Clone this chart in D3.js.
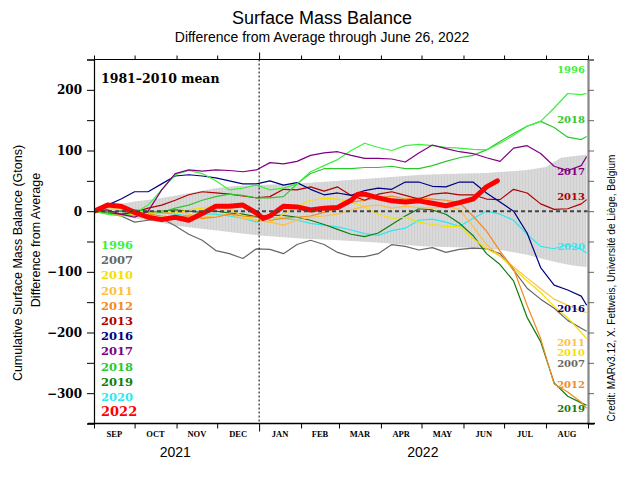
<!DOCTYPE html>
<html><head><meta charset="utf-8">
<script src="https://cdn.jsdelivr.net/npm/d3@7"></script>
<style>body{margin:0;background:#fff}</style>
</head><body>
<svg id="c" width="625" height="493"></svg>
<script>
// ---------- data ----------
const days = [0,10,20,30,40,50,60,70,80,90,100,110,120,130,140,150,160,170,180,190,200,210,220,230,240,250,260,270,280,290,300,310,320,330,340,350,360,364];
const years = ["1996","2007","2010","2011","2012","2013","2016","2017","2018","2019","2020"];
const v1996 = [0,-5,-8,-3,10,35,60,67,62,50,35,38,43,35,38,45,65,75,85,100,112,105,100,108,110,108,105,104,102,101,112,125,140,148,170,194,192,194];
const v2007 = [0,-3,-8,-18,-15,-12,-24,-38,-48,-65,-70,-78,-62,-63,-70,-55,-48,-55,-68,-75,-75,-70,-55,-58,-64,-60,-68,-63,-61,-62,-70,-97,-127,-145,-160,-180,-193,-198];
const v2010 = [0,-5,-8,-5,-3,0,-3,2,5,8,3,-8,-15,-18,-5,8,18,21,20,15,7,-5,-12,-10,-18,-22,-25,-25,-45,-62,-74,-95,-115,-134,-157,-176,-200,-210];
const v2011 = [0,3,5,0,-5,-3,0,-5,-10,-8,-5,-12,-15,-18,-23,-15,-10,-8,-5,2,8,10,5,8,6,5,8,3,-25,-55,-74,-92,-110,-128,-145,-155,-165,-167];
const v2012 = [0,-3,-6,-8,-5,-8,-10,-8,-12,-10,-5,-8,-10,-15,-12,-10,-8,-2,5,15,18,22,25,20,22,20,18,14,-8,-33,-66,-95,-155,-210,-285,-298,-315,-325];
const v2013 = [0,-2,-5,-2,5,10,18,27,32,30,28,25,22,24,36,35,40,33,40,26,18,28,32,26,20,28,30,27,27,20,19,36,30,12,3,4,12,19];
const v2016 = [0,10,20,32,32,45,58,60,58,55,50,45,45,50,43,47,36,27,30,26,34,38,36,48,48,41,40,48,48,30,15,0,-36,-93,-122,-130,-140,-155];
const v2017 = [0,2,-5,-10,0,35,62,68,66,68,67,65,68,80,78,82,92,96,98,92,87,87,86,81,96,109,103,98,95,88,82,104,108,95,74,67,75,90];
const v2018 = [0,-2,0,2,0,-2,5,10,18,24,28,26,22,22,24,45,62,70,70,70,72,72,74,70,70,75,82,88,92,101,115,128,140,148,138,122,118,123];
const v2019 = [0,-2,0,-3,-2,0,2,0,-2,0,-3,-5,-9,-7,-7,-10,-15,-22,-30,-38,-42,-36,-22,-8,4,2,-5,-20,-40,-70,-88,-115,-175,-215,-283,-305,-316,-320];
const v2020 = [0,-2,-5,-8,-5,-3,-5,-8,-5,-5,-8,-12,-18,-10,-12,-15,-20,-23,-26,-31,-37,-40,-32,-28,-15,-13,-18,-25,-12,0,-5,-15,-38,-58,-62,-55,-63,-69];
const days2022 = [0,10,20,30,40,50,60,70,80,90,100,110,120,125,130,140,150,160,170,180,190,195,200,210,220,230,240,250,260,270,280,290,298];
const v2022 = [0,10,8,-2,-10,-14,-10,-15,-4,8,8,10,-3,-12,-8,8,7,2,5,6,18,28,28,22,17,15,17,13,9,14,20,40,50];
const bandDays = [0,15,30,45,61,76,91,106,122,153,181,212,242,273,290,303,320,334,345,355,364];
const bandUpper = [0,10,16,20,26,32,38,42,43,46,50,55,60,62,63,65,68,73,88,91,93];
const bandLower = [0,-6,-12,-17,-24,-28,-32,-36,-40,-45,-48,-52,-58,-60,-62,-65,-72,-80,-86,-90,-92];
const yTicks = [-300,-200,-100,0,100,200];
const monthLabels = ["SEP","OCT","NOV","DEC","JAN","FEB","MAR","APR","MAY","JUN","JUL","AUG"];
const yearLabels = ["2021","2022"];
// end-of-line label anchors (data units)
const endLabelYears = ["1996","2018","2017","2013","2020","2016","2011","2010","2007","2012","2019"];
const endLabelAt = [234,152,66,25,-58,-160,-216,-232,-250,-285,-325];

const colors = {"1996":"#3cf03c","2007":"#666666","2010":"#f6e000","2011":"#ffbf40","2012":"#f28a1e","2013":"#b00000","2016":"#000080","2017":"#800080","2018":"#2ec82e","2019":"#0f7d0f","2020":"#2ee8f0","2022":"#ff0000"};
const series = {"1996":v1996,"2007":v2007,"2010":v2010,"2011":v2011,"2012":v2012,"2013":v2013,"2016":v2016,"2017":v2017,"2018":v2018,"2019":v2019,"2020":v2020};

// ---------- layout ----------
const svg = d3.select("#c");
const L = 94, R = 588, T = 59.5, B = 423.5;
const t0 = Date.UTC(2021,8,1);
const dayDate = d => new Date(t0 + d*86400000);
const x = d3.scaleUtc([new Date(t0), new Date(Date.UTC(2022,8,1))], [L, R]);
const y = d3.scaleLinear([-350, 250], [B, T]);

const defs = svg.append("defs");
const pat = defs.append("pattern").attr("id","hatch").attr("width",3).attr("height",10).attr("patternUnits","userSpaceOnUse");
pat.append("rect").attr("width",3).attr("height",10).attr("fill","#d9d9d9");
pat.append("rect").attr("width",1).attr("height",10).attr("fill","#d0d0d0");
defs.append("clipPath").attr("id","clip").append("rect").attr("x",L).attr("y",T).attr("width",R-L).attr("height",B-T);

const serif = "'DejaVu Serif', serif";
const sans = "'Liberation Sans', Arial, sans-serif";

// band
const area = d3.area().x((d,i)=>x(dayDate(bandDays[i]))).y0((d,i)=>y(bandLower[i])).y1((d,i)=>y(bandUpper[i]));
svg.append("path").attr("d", area(bandDays)).attr("fill","url(#hatch)").attr("clip-path","url(#clip)");

// thin lines
const line = d3.line().x(d=>x(dayDate(d[0]))).y(d=>y(d[1]));
const drawOrder = ["2007","2020","2019","2010","2011","2012","2013","2016","2018","1996","2017"];
const g = svg.append("g").attr("clip-path","url(#clip)");
drawOrder.forEach(yr=>{
  const pts = days.map((d,i)=>[d, series[yr][i]]);
  g.append("path").attr("d", line(pts)).attr("fill","none").attr("stroke",colors[yr]).attr("stroke-width",1.2).attr("stroke-linejoin","round");
});

// zero dashed line
svg.append("line").attr("x1",L).attr("x2",R).attr("y1",y(0)).attr("y2",y(0))
  .attr("stroke","#444").attr("stroke-width",2).attr("stroke-dasharray","4,3");

// 2022 thick red
g.append("path").attr("d", line(days2022.map((d,i)=>[d, v2022[i]]))).attr("fill","none")
  .attr("stroke",colors["2022"]).attr("stroke-width",5).attr("stroke-linejoin","round").attr("stroke-linecap","round");

// Jan 1 dotted line
const jan = x(new Date(Date.UTC(2022,0,1)));
svg.append("line").attr("x1",jan).attr("x2",jan).attr("y1",T).attr("y2",B).attr("stroke","#000").attr("stroke-width",1).attr("stroke-dasharray","2,2");

// ---------- axes ----------
const yAx = svg.append("g").attr("transform",`translate(${L},0)`)
  .call(d3.axisLeft(y).tickValues(d3.range(-350,251,50)).tickSize(7).tickFormat(d => yTicks.includes(d) ? (d<0 ? "\u2212"+Math.abs(d) : d) : ""));
yAx.select(".domain").attr("stroke","#000").attr("stroke-width",1.2);
yAx.selectAll(".tick line").attr("stroke","#000");
yAx.selectAll("text").attr("font-family",serif).attr("font-weight","bold").attr("font-size",12).attr("fill","#000").attr("x",-12);

const yAxR = svg.append("g").attr("transform",`translate(${R},0)`)
  .call(d3.axisRight(y).tickValues(d3.range(-350,251,50)).tickSize(6).tickFormat(""));
yAxR.select(".domain").attr("stroke","#888").attr("stroke-width",2.2);
yAxR.selectAll(".tick line").attr("stroke","#666");

const months = d3.utcMonth.range(new Date(t0), new Date(Date.UTC(2022,8,2)));
const xAx = svg.append("g").attr("transform",`translate(0,${B})`)
  .call(d3.axisBottom(x).tickValues(months).tickSize(5).tickFormat(""));
xAx.select(".domain").remove();
xAx.selectAll(".tick line").attr("stroke","#000").attr("y2", d => +d===+new Date(Date.UTC(2022,0,1)) ? 8 : 5);
svg.append("line").attr("x1",L-6).attr("x2",R+7).attr("y1",B).attr("y2",B).attr("stroke","#000").attr("stroke-width",1.3);

const xAxT = svg.append("g").attr("transform",`translate(0,${T})`)
  .call(d3.axisTop(x).tickValues(months).tickSize(4).tickFormat(""));
xAxT.select(".domain").remove();
xAxT.selectAll(".tick line").attr("stroke","#000").attr("y2", d => +d===+new Date(Date.UTC(2022,0,1)) ? -7 : -4);
svg.append("line").attr("x1",L).attr("x2",R).attr("y1",T).attr("y2",T).attr("stroke","#000").attr("stroke-width",1.2);

// month labels
months.slice(0,12).forEach((m,i)=>{
  const mid = new Date((+m + +d3.utcMonth.offset(m,1))/2);
  svg.append("text").attr("x",x(mid)).attr("y",437).attr("text-anchor","middle")
    .attr("font-family","'Liberation Serif', serif").attr("font-weight","bold").attr("font-size",8.5).text(monthLabels[i]);
});
// year labels
svg.append("text").attr("x",x(new Date(Date.UTC(2021,9,31)))).attr("y",457).attr("text-anchor","middle").attr("font-family",sans).attr("font-size",14).text(yearLabels[0]);
svg.append("text").attr("x",x(new Date(Date.UTC(2022,4,2)))).attr("y",457).attr("text-anchor","middle").attr("font-family",sans).attr("font-size",14).text(yearLabels[1]);

// titles
svg.append("text").attr("x",322).attr("y",24).attr("text-anchor","middle").attr("font-family",sans).attr("font-size",18).text("Surface Mass Balance");
svg.append("text").attr("x",322).attr("y",42).attr("text-anchor","middle").attr("font-family",sans).attr("font-size",14).text("Difference from Average through June 26, 2022");

// y axis title
svg.append("text").attr("transform","translate(22,263) rotate(-90)").attr("text-anchor","middle").attr("font-family",sans).attr("font-size",12.5).text("Cumulative Surface Mass Balance (Gtons)");
svg.append("text").attr("transform","translate(40,240) rotate(-90)").attr("text-anchor","middle").attr("font-family",sans).attr("font-size",12.5).text("Difference from Average");

// credit
svg.append("text").attr("transform","translate(615,288) rotate(-90)").attr("text-anchor","middle").attr("font-family",sans).attr("font-size",10).text("Credit: MARv3.12, X. Fettweis, Universit\u00e9 de Li\u00e8ge, Belgium");

// mean label
svg.append("text").attr("x",101).attr("y",83).attr("font-family",serif).attr("font-weight","bold").attr("font-size",12.5).text("1981\u20132010 mean");

// legend (left)
const legendYears = years.concat(["2022"]);
legendYears.forEach((yr,i)=>{
  svg.append("text").attr("x",101).attr("y",249 + i*15.2).attr("font-family",serif).attr("font-weight","bold")
    .attr("font-size", yr==="2022" ? 13 : 11.5).attr("fill",colors[yr]).text(yr);
});

// end labels (right)
endLabelYears.forEach((yr,i)=>{
  svg.append("text").attr("x",R-3).attr("y",y(endLabelAt[i])+4).attr("text-anchor","end").attr("font-family",serif).attr("font-weight","bold")
    .attr("font-size",10).attr("fill",colors[yr]).text(yr);
});
</script>
</body></html>
